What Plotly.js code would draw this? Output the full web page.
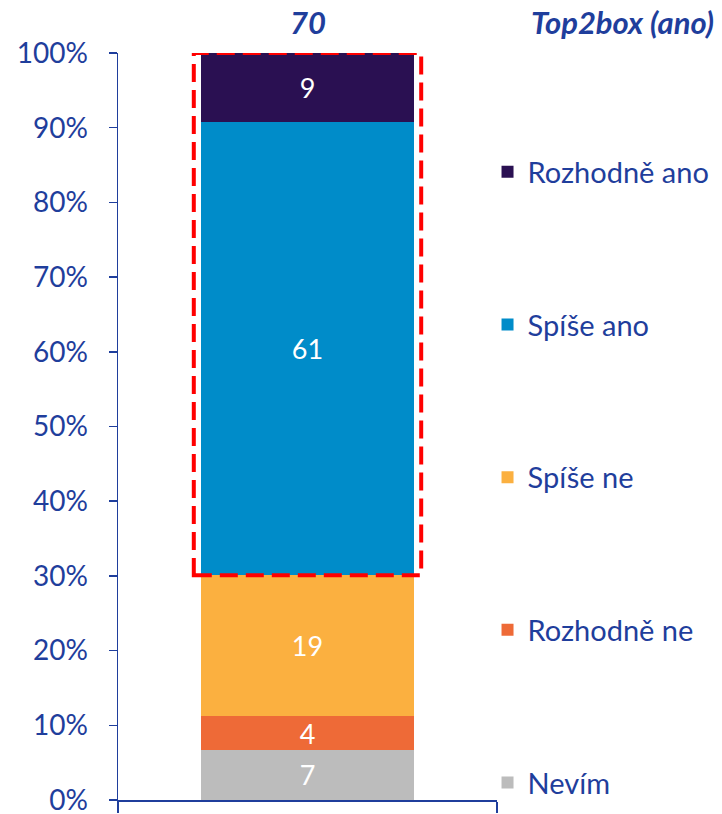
<!DOCTYPE html>
<html>
<head>
<meta charset="utf-8">
<script src="https://cdn.plot.ly/plotly-3.0.1.min.js"></script>
<style>html,body{margin:0;padding:0;background:#fff;}#chart{width:722px;height:814px;}</style>
</head>
<body>
<div id="chart"></div>
<script>
const categories = ['Q'];
const seriesNames = ['Nevím', 'Rozhodně ne', 'Spíše ne', 'Spíše ano', 'Rozhodně ano'];
const seriesValues = [6.7, 4.5, 18.9, 60.7, 9.2];
const seriesLabels = ['7', '4', '19', '61', '9'];
const seriesColors = ['#BCBCBC', '#EE6A37', '#FBB040', '#008CC9', '#2A1052'];
const top2boxLabel = '70';
const top2boxTitle = 'Top2box (ano)';
const yTickVals = [0, 10, 20, 30, 40, 50, 60, 70, 80, 90, 100];

const BLUE = '#1F3E9C';
const FONT = 'Lato, "Open Sans", sans-serif';

const traces = seriesNames.map((name, i) => ({
  type: 'bar',
  name: name,
  x: categories,
  y: [seriesValues[i]],
  text: [seriesLabels[i]],
  textposition: 'inside',
  insidetextanchor: 'middle',
  textangle: 0,
  constraintext: 'none',
  textfont: {color: '#FFFFFF', size: 27, family: FONT},
  marker: {color: seriesColors[i], line: {width: 0}},
  width: 0.56,
  legendgroup: 'g' + i,
  legendrank: 100 * (seriesNames.length - i),
  hoverinfo: 'skip'
}));

// top-2-box region (top two series)
const boxBottom = seriesValues.slice(0, 3).reduce((a, b) => a + b, 0);
const boxTop = seriesValues.reduce((a, b) => a + b, 0);

const layout = {
  width: 722,
  height: 814,
  margin: {l: 118, r: 225, t: 53, b: 14, autoexpand: false},
  paper_bgcolor: '#FFFFFF',
  plot_bgcolor: '#FFFFFF',
  barmode: 'stack',
  showlegend: true,
  font: {family: FONT, color: BLUE},
  xaxis: {
    type: 'category',
    showticklabels: false,
    showline: true,
    linecolor: BLUE,
    linewidth: 1.5,
    ticks: 'outside',
    tickson: 'boundaries',
    ticklen: 11,
    tickcolor: BLUE,
    tickwidth: 1.5,
    showgrid: false,
    zeroline: false,
    range: [-0.5, 0.5],
    fixedrange: true
  },
  yaxis: {
    range: [0, 100],
    tickvals: yTickVals,
    ticktext: yTickVals.map(v => v + '%'),
    ticks: 'outside',
    ticklen: 8,
    tickcolor: BLUE,
    tickwidth: 1.5,
    ticklabelstandoff: 15,
    ticklabeloverflow: 'allow',
    tickfont: {size: 28, color: BLUE, family: FONT},
    showline: true,
    linecolor: BLUE,
    linewidth: 1.5,
    showgrid: false,
    zeroline: false,
    fixedrange: true
  },
  legend: {
    x: 0.975,
    xanchor: 'left',
    y: 0.875,
    yanchor: 'top',
    maxheight: 900,
    traceorder: 'grouped',
    tracegroupgap: 112,
    font: {size: 29, color: BLUE, family: FONT},
    bgcolor: 'rgba(0,0,0,0)'
  },
  shapes: [{
    type: 'rect',
    xref: 'x',
    yref: 'y',
    x0: -0.3,
    x1: 0.3,
    y0: boxBottom,
    y1: boxTop,
    line: {color: '#FF0000', width: 4, dash: '18px,8px'},
    fillcolor: 'rgba(0,0,0,0)',
    layer: 'above'
  }],
  annotations: [
    {
      xref: 'x', yref: 'paper', x: 0, y: 1.042, yanchor: 'middle',
      text: '<b><i>' + top2boxLabel + '</i></b>', showarrow: false,
      font: {size: 31, color: BLUE, family: FONT}
    },
    {
      xref: 'paper', yref: 'paper', x: 1.578, xanchor: 'right', y: 1.042, yanchor: 'middle',
      text: '<b><i>' + top2boxTitle + '</i></b>', showarrow: false,
      font: {size: 31, color: BLUE, family: FONT}
    }
  ]
};

Plotly.newPlot('chart', traces, layout, {displayModeBar: false, staticPlot: true});
</script>
</body>
</html>
